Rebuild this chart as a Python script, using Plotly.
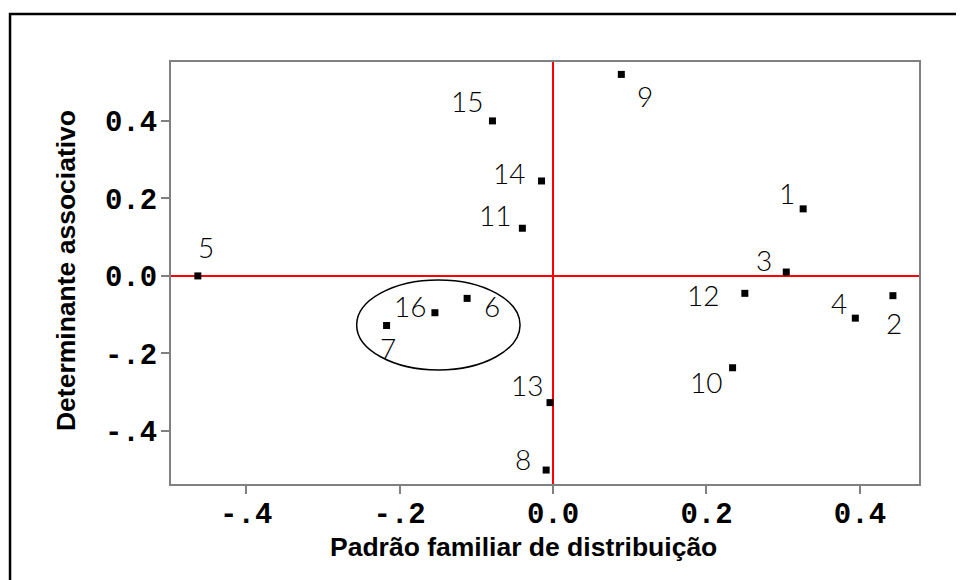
import plotly.graph_objects as go

# coordenadas dos 16 casos
rotulos = ["1", "2", "3", "4", "5", "6", "7", "8", "9", "10", "11", "12", "13", "14", "15", "16"]
padrao_familiar = [0.326, 0.443, 0.304, 0.394, -0.463, -0.112, -0.217, -0.009, 0.089, 0.234,
                   -0.040, 0.250, -0.004, -0.015, -0.079, -0.154]
determinante = [0.173, -0.051, 0.010, -0.109, 0.000, -0.058, -0.128, -0.501, 0.520, -0.237,
                0.123, -0.045, -0.327, 0.245, 0.400, -0.095]
# deslocamento de cada rotulo em pixels (dx para a direita, dy para cima)
desloc_x = [-16, 1, -22, -16, 8, 25, 1, -23, 24, -27, -27, -42, -23, -33, -25, -25]
desloc_y = [16, -27, 12, 15, 29, -8, -22, 11, -22, -14, 13, -2, 18, 8, 20, 7]

valores_ticks = [-0.4, -0.2, 0.0, 0.2, 0.4]
textos_ticks = ["-.4", "-.2", "0.0", "0.2", "0.4"]

# elipse que agrupa os casos 6, 7 e 16
elipse_x = [-0.256, -0.043]
elipse_y = [-0.2426, -0.0103]

fig = go.Figure()

fig.add_trace(go.Scatter(
    x=padrao_familiar, y=determinante, mode='markers',
    marker=dict(symbol='square', size=7, color='black'),
    hoverinfo='skip', showlegend=False
))

for i, r in enumerate(rotulos):
    fig.add_annotation(
        x=padrao_familiar[i], y=determinante[i], text=r, showarrow=False,
        xshift=desloc_x[i], yshift=desloc_y[i],
        font=dict(family='Lato', size=28, color='black', weight=300)
    )

fig.add_shape(type='circle', xref='x', yref='y',
              x0=elipse_x[0], x1=elipse_x[1], y0=elipse_y[0], y1=elipse_y[1],
              line=dict(color='black', width=1.5))

# moldura externa (so esquerda e topo aparecem na imagem)
fig.add_shape(type='rect', xref='paper', yref='paper',
              x0=-0.2152, x1=1.3, y0=-0.5, y1=1.1137,
              line=dict(color='black', width=2.5), layer='below')

eixo = dict(
    showgrid=False, zeroline=True, zerolinecolor='red', zerolinewidth=2,
    showline=True, linecolor='#808080', linewidth=2, mirror=True,
    ticks='outside', ticklen=8, tickwidth=1.5, tickcolor='#808080',
    tickvals=valores_ticks, ticktext=textos_ticks,
    tickfont=dict(family='Liberation Mono', size=29, color='black', weight='bold'),
)

fig.update_xaxes(eixo, range=[-0.498, 0.477], ticklabelstandoff=-6)
fig.update_yaxes(eixo, range=[-0.537, 0.552], ticklabelstandoff=-2)

fig.add_annotation(
    xref='paper', yref='paper', x=0.4713, y=-0.149, showarrow=False,
    xanchor='center', yanchor='middle',
    text='Padrão familiar de distribuição',
    font=dict(family='Liberation Sans', size=26.5, color='black', weight='bold')
)
fig.add_annotation(
    xref='paper', yref='paper', x=-0.1404, y=0.507, showarrow=False, textangle=-90,
    xanchor='center', yanchor='middle',
    text='Determinante associativo',
    font=dict(family='Liberation Sans', size=26.5, color='black', weight='bold')
)

# a pagina tem 8px de margem no corpo, por isso a figura e 8px menor
fig.update_layout(
    width=956, height=572,
    margin=dict(l=163, r=45, t=54, b=96),
    plot_bgcolor='white', paper_bgcolor='white'
)

fig.write_html("out.html")
